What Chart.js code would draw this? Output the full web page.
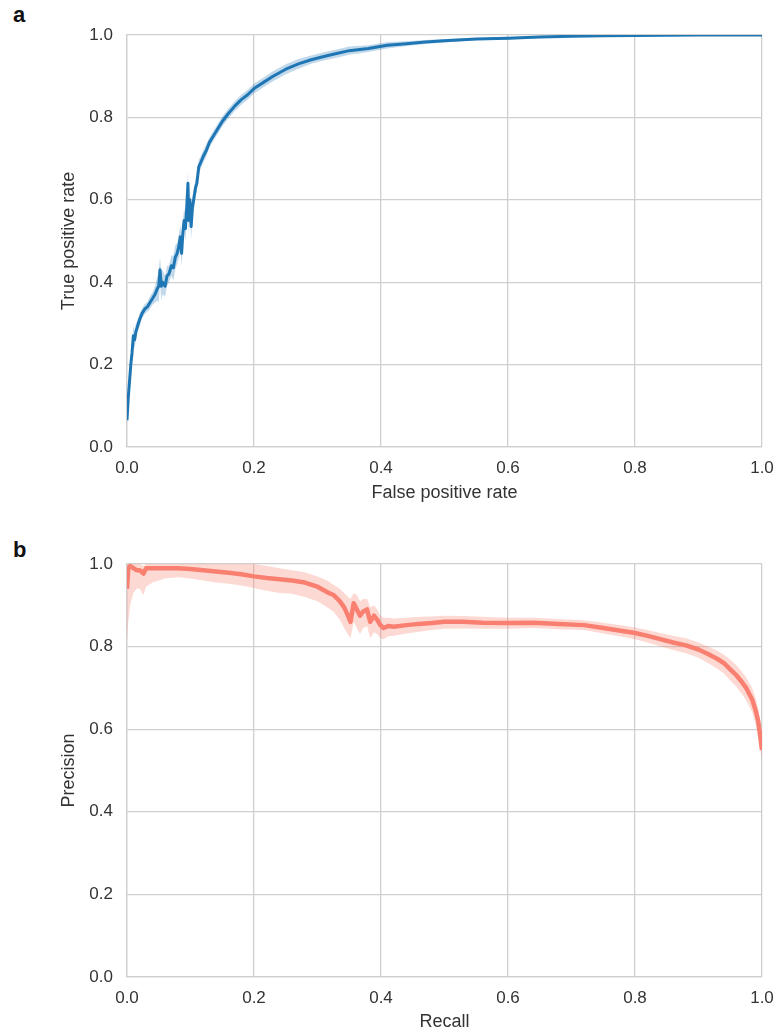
<!DOCTYPE html>
<html>
<head>
<meta charset="utf-8">
<script src="https://cdn.jsdelivr.net/npm/chart.js@4"></script>
<style>
  body { margin: 0; background: #fff; }
  #wrap { position: relative; width: 778px; height: 1034px; font-family: "Liberation Sans", Arial, sans-serif; }
  canvas { position: absolute; left: 0; }
  .panel { position: absolute; left: 13px; font-size: 22px; font-weight: bold; line-height: 22px; color: #111; }
</style>
</head>
<body>
<div id="wrap">
  <div class="panel" style="top:4px">a</div>
  <div class="panel" style="top:539px">b</div>
  <canvas id="rocChart" width="778" height="520" style="top:0"></canvas>
  <canvas id="prChart" width="778" height="514" style="top:520px"></canvas>
</div>
<script>
// ROC curve (panel a)
const fpr = [0, 0.002, 0.004, 0.006, 0.008, 0.010, 0.012, 0.014, 0.016, 0.02,
  0.024, 0.028, 0.032, 0.036, 0.040, 0.044, 0.048, 0.050, 0.052, 0.054,
  0.056, 0.060, 0.063, 0.066, 0.070, 0.073, 0.076, 0.079, 0.082, 0.084,
  0.086, 0.088, 0.090, 0.092, 0.094, 0.096, 0.097, 0.099, 0.101, 0.103,
  0.105, 0.108, 0.110, 0.113, 0.116, 0.120, 0.125, 0.130, 0.136, 0.142,
  0.150, 0.160, 0.170, 0.180, 0.190, 0.200, 0.215, 0.230, 0.250, 0.270,
  0.290, 0.310, 0.330, 0.350, 0.380, 0.410, 0.440, 0.470, 0.500, 0.550,
  0.600, 0.650, 0.700, 0.750, 0.800, 0.900, 1.000];
const tpr = [0.065, 0.12, 0.16, 0.20, 0.23, 0.27, 0.26, 0.28, 0.29, 0.31,
  0.325, 0.335, 0.34, 0.35, 0.36, 0.37, 0.385, 0.39, 0.43, 0.39,
  0.40, 0.39, 0.415, 0.42, 0.44, 0.435, 0.46, 0.47, 0.49, 0.51,
  0.47, 0.52, 0.55, 0.53, 0.58, 0.64, 0.55, 0.60, 0.535, 0.58,
  0.60, 0.63, 0.64, 0.68, 0.69, 0.705, 0.72, 0.74, 0.755, 0.77,
  0.79, 0.81, 0.828, 0.843, 0.855, 0.87, 0.885, 0.9, 0.917, 0.93,
  0.94, 0.948, 0.955, 0.962, 0.967, 0.975, 0.979, 0.983, 0.986, 0.99,
  0.992, 0.995, 0.997, 0.998, 0.999, 1.0, 1.0];
// half width of the shaded band
const tprSpread = [0.01, 0.02, 0.02, 0.02, 0.02, 0.025, 0.02, 0.02, 0.015, 0.015,
  0.012, 0.012, 0.012, 0.015, 0.015, 0.02, 0.03, 0.04, 0.03, 0.035,
  0.03, 0.025, 0.025, 0.02, 0.025, 0.03, 0.03, 0.025, 0.03, 0.03,
  0.03, 0.03, 0.03, 0.03, 0.03, 0.03, 0.03, 0.03, 0.03, 0.025,
  0.025, 0.02, 0.02, 0.018, 0.015, 0.015, 0.015, 0.012, 0.012, 0.012,
  0.012, 0.012, 0.012, 0.012, 0.012, 0.012, 0.012, 0.012, 0.012, 0.012,
  0.01, 0.01, 0.01, 0.01, 0.008, 0.008, 0.006, 0.005, 0.004, 0.003,
  0.003, 0.002, 0.002, 0.001, 0, 0, 0];

// Precision-recall curve (panel b)
const recall = [0, 0.002, 0.005, 0.010, 0.015, 0.020, 0.026, 0.030, 0.040, 0.060,
  0.080, 0.100, 0.120, 0.140, 0.160, 0.180, 0.200, 0.220, 0.240, 0.260,
  0.280, 0.300, 0.315, 0.325, 0.335, 0.342, 0.348, 0.352, 0.357, 0.362,
  0.367, 0.372, 0.378, 0.383, 0.389, 0.394, 0.399, 0.404, 0.412, 0.420,
  0.440, 0.460, 0.480, 0.500, 0.530, 0.560, 0.600, 0.640, 0.680, 0.720,
  0.750, 0.780, 0.800, 0.820, 0.840, 0.860, 0.880, 0.900, 0.915, 0.930,
  0.940, 0.950, 0.960, 0.968, 0.975, 0.980, 0.985, 0.990, 0.994, 0.997, 1.000];
const precision = [0.94, 0.99, 0.995, 0.99, 0.985, 0.985, 0.977, 0.99, 0.99, 0.99,
  0.99, 0.988, 0.985, 0.982, 0.979, 0.975, 0.97, 0.966, 0.963, 0.96,
  0.955, 0.945, 0.932, 0.925, 0.91, 0.895, 0.875, 0.86, 0.905, 0.89,
  0.875, 0.885, 0.89, 0.86, 0.875, 0.865, 0.852, 0.845, 0.85, 0.848,
  0.852, 0.855, 0.857, 0.86, 0.86, 0.858, 0.857, 0.858, 0.855, 0.852,
  0.845, 0.838, 0.833, 0.826, 0.818, 0.81, 0.803, 0.793, 0.782, 0.77,
  0.76, 0.745, 0.73, 0.715, 0.70, 0.685, 0.67, 0.645, 0.62, 0.585, 0.55];
const precHigh = [1.0, 1.0, 1.0, 1.0, 1.0, 1.0, 0.995, 1.0, 1.0, 1.0,
  1.0, 1.0, 1.0, 1.0, 1.0, 1.0, 1.0, 0.995, 0.99, 0.985,
  0.98, 0.97, 0.96, 0.95, 0.94, 0.93, 0.92, 0.915, 0.93, 0.925,
  0.91, 0.915, 0.915, 0.895, 0.9, 0.89, 0.875, 0.87, 0.87, 0.868,
  0.87, 0.872, 0.873, 0.875, 0.874, 0.872, 0.87, 0.87, 0.867, 0.864,
  0.858, 0.851, 0.846, 0.84, 0.833, 0.826, 0.82, 0.81, 0.8, 0.79,
  0.78, 0.768, 0.755, 0.74, 0.726, 0.712, 0.698, 0.675, 0.65, 0.615, 0.58];
const precLow = [0.81, 0.86, 0.90, 0.93, 0.94, 0.94, 0.925, 0.945, 0.955, 0.965,
  0.968, 0.965, 0.96, 0.955, 0.952, 0.948, 0.942, 0.935, 0.93, 0.928,
  0.92, 0.91, 0.895, 0.885, 0.865, 0.845, 0.83, 0.82, 0.86, 0.845,
  0.83, 0.845, 0.85, 0.82, 0.835, 0.83, 0.82, 0.818, 0.825, 0.826,
  0.832, 0.836, 0.84, 0.843, 0.844, 0.843, 0.843, 0.845, 0.842, 0.84,
  0.832, 0.824, 0.818, 0.81, 0.801, 0.792, 0.784, 0.773, 0.76, 0.746,
  0.735, 0.718, 0.702, 0.686, 0.67, 0.655, 0.64, 0.612, 0.585, 0.55, 0.53];

const axisTicks = [0, 0.2, 0.4, 0.6, 0.8, 1.0];

const FONT = "'Liberation Sans', Arial, sans-serif";
const TEXT = "#333";
const GRID = "#cfcfcf";

function pts(xs, ys) {
    return xs.map((x, i) => ({ x: x, y: ys[i] }));
}

function makeScale(title, titlePad, fitFn) {
    return {
        type: "linear",
        min: 0,
        max: 1,
        afterBuildTicks: s => { s.ticks = axisTicks.map(v => ({ value: v })); },
        afterFit: fitFn,
        ticks: {
            color: TEXT,
            font: { family: FONT, size: 17 },
            callback: v => v.toFixed(1),
            maxRotation: 0
        },
        grid: { color: GRID, lineWidth: 1.3, drawTicks: false },
        border: { color: GRID, width: 1.3 },
        title: {
            display: true,
            text: title,
            color: TEXT,
            font: { family: FONT, size: 18 },
            padding: titlePad
        }
    };
}

function renderCurve(canvasId, cfg) {
    const ctx = document.getElementById(canvasId).getContext("2d");
    // fixed axis sizes so the plot area lands where the reference has it
    const x = makeScale(cfg.xTitle, { top: 0, bottom: cfg.xTitlePad }, s => {
        s.height = cfg.xHeight;
        s.paddingLeft = 0;
        s.paddingRight = 0;
    });
    x.ticks.padding = 11;
    const y = makeScale(cfg.yTitle, { top: 58, bottom: 0 }, s => {
        s.width = 127;
        s.paddingTop = 0;
        s.paddingBottom = 0;
    });
    y.ticks.padding = 14;

    return new Chart(ctx, {
        type: "line",
        data: {
            datasets: [
                {
                    data: pts(cfg.xs, cfg.high),
                    borderWidth: 0,
                    pointRadius: 0,
                    backgroundColor: cfg.band,
                    fill: "+1"
                },
                {
                    data: pts(cfg.xs, cfg.low),
                    borderWidth: 0,
                    pointRadius: 0,
                    fill: false
                },
                {
                    data: pts(cfg.xs, cfg.ys),
                    borderColor: cfg.color,
                    borderWidth: cfg.lineWidth,
                    borderJoinStyle: "round",
                    pointRadius: 0,
                    tension: 0,
                    fill: false
                }
            ]
        },
        options: {
            responsive: false,
            animation: false,
            devicePixelRatio: 1,
            layout: { padding: { left: 0, right: 16, top: cfg.top, bottom: 0 } },
            plugins: {
                legend: { display: false },
                tooltip: { enabled: false }
            },
            scales: { x: x, y: y }
        }
    });
}

renderCurve("rocChart", {
    xs: fpr,
    ys: tpr,
    high: tpr.map((v, i) => Math.min(1, v + tprSpread[i])),
    low: tpr.map((v, i) => v - tprSpread[i]),
    color: "#1f77b4",
    band: "rgba(31,119,180,0.28)",
    lineWidth: 3,
    xTitle: "False positive rate",
    yTitle: "True positive rate",
    top: 35,
    xHeight: 73,
    xTitlePad: 16
});

renderCurve("prChart", {
    xs: recall,
    ys: precision,
    high: precHigh,
    low: precLow,
    color: "#fa8072",
    band: "rgba(250,128,114,0.3)",
    lineWidth: 4.5,
    xTitle: "Recall",
    yTitle: "Precision",
    top: 44,
    xHeight: 57,
    xTitlePad: 1
});
</script>
</body>
</html>
